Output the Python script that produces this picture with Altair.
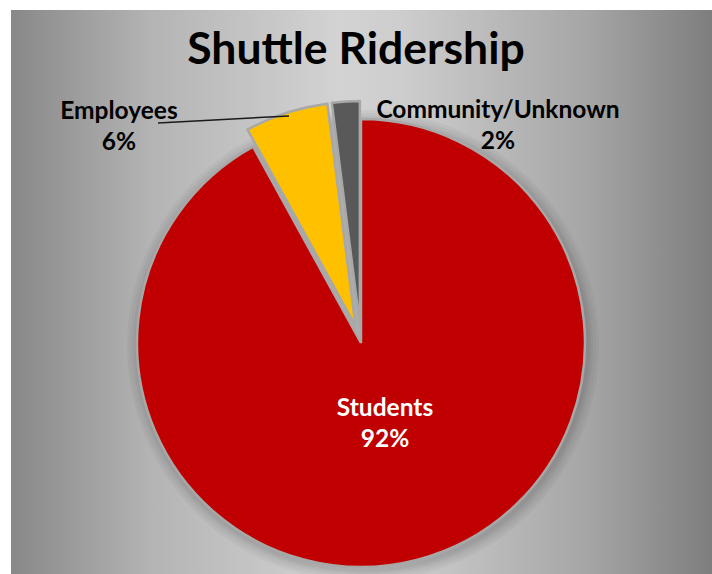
import altair as alt
import pandas as pd

# ---- data ----
categories = ["Students", "Employees", "Community/Unknown"]
values = [92, 6, 2]
slice_order = [0, 1, 2]
title_text = "Shuttle Ridership"

# ---- style ----
colors = ["#C00000", "#FFC000", "#595959"]
W, H = 701, 564
CX, CY, R = 350, 333, 224
EXPLODE = 18
FONT = "Lato"

df = pd.DataFrame({"category": categories, "value": values, "order": slice_order})

base = alt.Chart(df).transform_window(
    cum="sum(value)", sort=[alt.SortField("order")], frame=[None, 0]
).transform_joinaggregate(total="sum(value)").transform_calculate(
    start="datum.cum - datum.value",
    mid="(datum.cum - datum.value / 2) / datum.total * 2 * PI",
    d=f"datum.category == 'Students' ? 0 : {EXPLODE}",
    px=f"{CX} + datum.d * sin(datum.mid)",
    py=f"{CY} - datum.d * cos(datum.mid)",
    label="[datum.category, format(datum.value / datum.total * 100, '.0f') + '%']",
)

bg = alt.Chart(alt.Data(values=[{}])).mark_rect(
    color=alt.LinearGradient(
        gradient="linear", x1=0, x2=1, y1=0, y2=0,
        stops=[
            alt.GradientStop(color="#888888", offset=0),
            alt.GradientStop(color="#b4b4b4", offset=0.2),
            alt.GradientStop(color="#d3d3d3", offset=0.47),
            alt.GradientStop(color="#cdcdcd", offset=0.56),
            alt.GradientStop(color="#a6a6a6", offset=0.82),
            alt.GradientStop(color="#7e7e7e", offset=1),
        ],
    )
).encode(x=alt.value(0), x2=alt.value(W), y=alt.value(0), y2=alt.value(H))

shadow_layers = []
for k in [12, 9, 6, 4, 2]:
    shadow_layers.append(
        alt.Chart(alt.Data(values=[{}])).mark_circle(
            color="black", opacity=0.035, size=(2 * (R + k)) ** 2
        ).encode(x=alt.value(CX + 2), y=alt.value(CY + 3))
    )

arcs = base.mark_arc(radius=R, stroke="#a8a8a8", strokeWidth=2.5).encode(
    theta=alt.Theta("start:Q", scale=alt.Scale(domain=[0, sum(values)])),
    theta2="cum:Q",
    x=alt.X("px:Q", scale=None),
    y=alt.Y("py:Q", scale=None),
    color=alt.Color("category:N", scale=alt.Scale(domain=categories, range=colors), legend=None),
)

label_pos = {
    "Students": (374, 406, "white"),
    "Employees": (108, 109, "black"),
    "Community/Unknown": (487, 108, "black"),
}
labels = []
for cat, (lx, ly, col) in label_pos.items():
    labels.append(
        base.transform_filter(alt.datum.category == cat).mark_text(
            font=FONT, fontWeight="bold", fontSize=24.5, color=col,
            align="center", baseline="alphabetic", lineHeight=31,
        ).encode(x=alt.value(lx), y=alt.value(ly), text="label:N")
    )

leader = alt.Chart(alt.Data(values=[{}])).mark_rule(color="#1a1a1a", strokeWidth=1.5).encode(
    x=alt.value(147), x2=alt.value(278), y=alt.value(113), y2=alt.value(106)
)

title = alt.Chart(alt.Data(values=[{"t": title_text}])).mark_text(
    font=FONT, fontWeight="bold", fontSize=44.5, color="black", align="center", baseline="alphabetic"
).encode(x=alt.value(345), y=alt.value(54), text="t:N")

chart = alt.layer(bg, *shadow_layers, arcs, *labels, leader, title).properties(
    width=W, height=H,
    padding={"left": 11, "top": 10, "right": 0, "bottom": 0},
    autosize=alt.AutoSizeParams(type="none"),
    background="white",
).configure_view(stroke=None)

chart.save("out.html", embed_options={"renderer": "svg", "actions": False})
